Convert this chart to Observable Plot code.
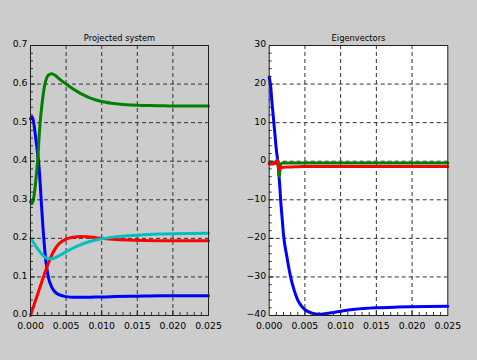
<!DOCTYPE html>
<html><head><meta charset="utf-8">
<script src="https://cdn.jsdelivr.net/npm/d3@7"></script>
<script src="https://cdn.jsdelivr.net/npm/@observablehq/plot@0.6"></script>
<style>
html,body{margin:0;padding:0;background:#cccccc;}
#wrap{position:relative;width:477px;height:360px;overflow:hidden;background:#cccccc;}
#wrap svg{position:absolute;top:0;}
</style></head><body><div id="wrap"></div>
<script>
// ---- data ----
const titles = ["Projected system", "Eigenvectors"];
const xTicks = [0, 0.005, 0.010, 0.015, 0.020, 0.025];
const yTicksLeft = [0, 0.1, 0.2, 0.3, 0.4, 0.5, 0.6, 0.7];
const yTicksRight = [-40, -30, -20, -10, 0, 10, 20, 30];

const tLeft = [0,0.0002,0.0004,0.0006,0.0008,0.001,0.0012,0.0014,0.0016,0.0018,0.002,0.0022,0.0025,0.003,0.0035,0.004,0.005,0.006,0.007,0.008,0.009,0.010,0.012,0.015,0.018,0.02,0.025];
const blueLeft = [0.51,0.515,0.505,0.48,0.45,0.42,0.385,0.33,0.27,0.215,0.17,0.135,0.1,0.073,0.06,0.054,0.049,0.047,0.047,0.047,0.048,0.048,0.049,0.05,0.051,0.051,0.051];
const greenLeft = [0.295,0.29,0.3,0.325,0.36,0.4,0.46,0.51,0.545,0.575,0.598,0.612,0.623,0.627,0.622,0.614,0.6,0.587,0.576,0.567,0.56,0.555,0.549,0.545,0.544,0.543,0.543];
const redLeft = [0,0.011,0.022,0.033,0.044,0.055,0.066,0.077,0.088,0.099,0.11,0.12,0.135,0.157,0.174,0.186,0.198,0.203,0.205,0.204,0.202,0.2,0.197,0.195,0.194,0.194,0.194];
const cyanLeft = [0.2,0.195,0.19,0.184,0.178,0.173,0.168,0.163,0.159,0.155,0.152,0.149,0.147,0.147,0.15,0.155,0.165,0.175,0.183,0.19,0.195,0.199,0.204,0.208,0.211,0.212,0.213];

const tRight = [0,0.0002,0.0004,0.0006,0.0008,0.001,0.0011,0.0012,0.0013,0.0014,0.0015,0.0016,0.0018,0.002,0.0025,0.003,0.0035,0.004,0.0045,0.005,0.006,0.007,0.008,0.009,0.01,0.012,0.015,0.018,0.02,0.025];
const blueRight = [21.8,19.5,15,11,7,3,1.5,0,-2,-4.5,-7,-10,-14.5,-19,-25,-30,-33.5,-36,-37.5,-38.5,-39.4,-39.7,-39.5,-39.2,-38.9,-38.4,-38.0,-37.8,-37.7,-37.6];
const greenRight = [-0.5,-0.5,-0.5,-0.45,-0.3,0.1,0.3,0,-2,-4,-2.5,-0.8,-0.5,-0.45,-0.45,-0.45,-0.45,-0.45,-0.45,-0.45,-0.45,-0.45,-0.45,-0.45,-0.45,-0.45,-0.45,-0.45,-0.45,-0.45];
const redRight = [-0.7,-0.7,-0.7,-0.65,-0.6,-0.3,0.1,-0.2,-1.2,-2.2,-1.9,-1.7,-1.6,-1.55,-1.5,-1.5,-1.45,-1.45,-1.4,-1.4,-1.4,-1.4,-1.4,-1.4,-1.4,-1.38,-1.36,-1.35,-1.35,-1.35];

const colors = {blue:"#0000ff", green:"#008000", red:"#ff0000", cyan:"#00bfbf"};

// ---- drawing ----
const H = 360, MT = 45, MB = 45;
function minors(ticks, n) {
  const out = [];
  for (let i = 0; i < ticks.length - 1; i++) {
    const step = (ticks[i+1] - ticks[i]) / n;
    for (let j = 1; j < n; j++) out.push(ticks[i] + j * step);
  }
  return out;
}

function panel({title, t, series, yTicks, yFmt, width, ml, mr, fill, left}) {
  const pw = width - ml - mr, ph = H - MT - MB;
  const xInner = xTicks.slice(1, -1), yInner = yTicks.slice(1, -1);
  const xMin = minors(xTicks, 5), yMin = minors(yTicks, 5);
  const chart = Plot.plot({
    width, height: H, marginLeft: ml, marginRight: mr, marginTop: MT, marginBottom: MB,
    style: {background: "transparent", fontFamily: "DejaVu Sans", fontSize: "9px", color: "black", overflow: "visible"},
    x: {domain: [xTicks[0], xTicks[xTicks.length-1]]},
    y: {domain: [yTicks[0], yTicks[yTicks.length-1]]},
    marks: [
      fill ? Plot.frame({fill: "white", stroke: "none"}) : null,
      Plot.ruleX(xInner, {stroke: "#333", strokeDasharray: "4,3", strokeWidth: 1}),
      Plot.ruleY(yInner, {stroke: "#333", strokeDasharray: "4,3", strokeWidth: 1}),
      ...series.map(s => Plot.lineY(s.values, {x: t, stroke: colors[s.color], strokeWidth: 3, curve: "monotone-x"})),
      Plot.ruleX(xMin, {stroke: "#333", insetTop: ph - 3}),
      Plot.ruleX(xInner, {stroke: "#222", insetTop: ph - 5}),
      Plot.ruleY(yMin, {stroke: "#333", insetRight: pw - 3}),
      Plot.ruleY(yInner, {stroke: "#222", insetRight: pw - 5}),
      Plot.frame({stroke: "#222", strokeWidth: 1}),
      Plot.axisX(xTicks, {anchor: "bottom", tickSize: 0, tickPadding: 6.5, tickFormat: d3.format(".3f"), fontSize: 9.3}),
      Plot.axisY(yTicks, {anchor: "left", tickSize: 0, tickPadding: 3, dy: -1, tickFormat: yFmt, fontSize: 9.3}),
      Plot.text([title], {frameAnchor: "top", dy: -10, fontSize: 8.3})
    ]
  });
  chart.style.left = left + "px";
  document.getElementById("wrap").appendChild(chart);
}

panel({
  title: titles[0], t: tLeft, yTicks: yTicksLeft, yFmt: d3.format(".1f"),
  width: 238, ml: 30, mr: 30, fill: false, left: 0,
  series: [
    {values: blueLeft, color: "blue"},
    {values: greenLeft, color: "green"},
    {values: redLeft, color: "red"},
    {values: cyanLeft, color: "cyan"}
  ]
});
panel({
  title: titles[1], t: tRight, yTicks: yTicksRight, yFmt: d => d < 0 ? "\u2212" + Math.abs(d) : String(d),
  width: 239, ml: 30.7, mr: 29.7, fill: true, left: 238,
  series: [
    {values: blueRight, color: "blue"},
    {values: greenRight, color: "green"},
    {values: redRight, color: "red"}
  ]
});
</script>
</body></html>
